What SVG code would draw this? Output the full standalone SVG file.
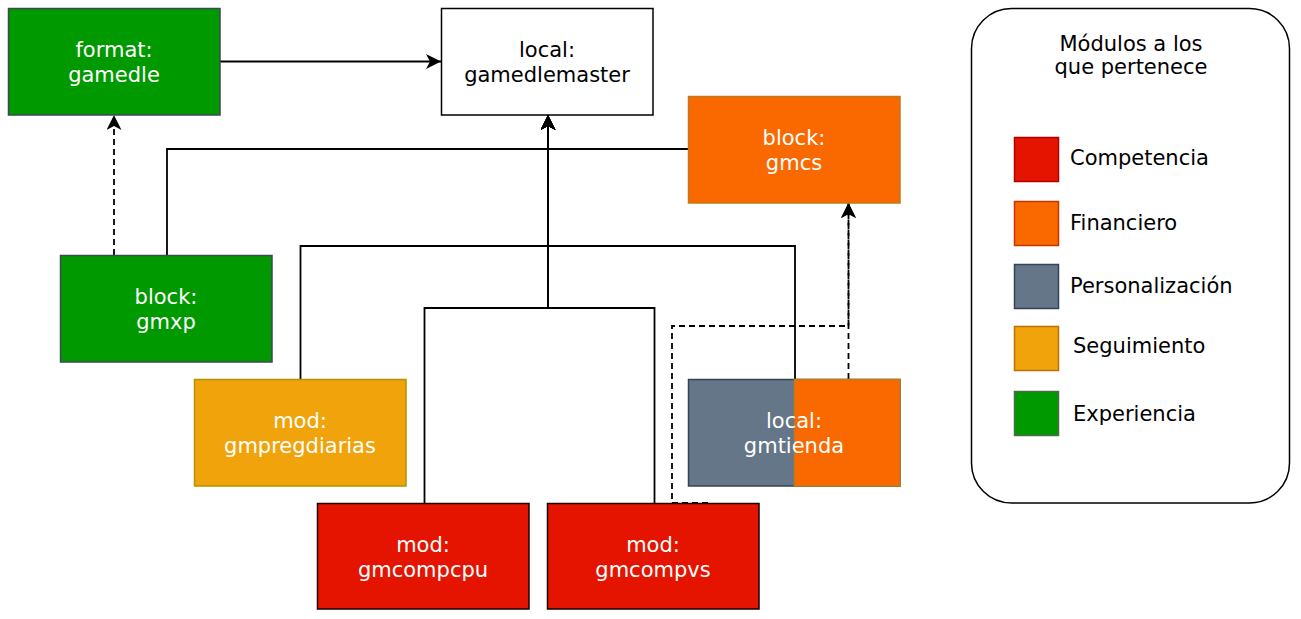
<svg xmlns="http://www.w3.org/2000/svg" width="1301" height="619" viewBox="0 0 1301 619">
<style>
text{font-family:"DejaVu Sans","Liberation Sans",sans-serif;font-size:21px}
.w{fill:#ffffff;text-anchor:middle}
.k{fill:#000000}
.c{text-anchor:middle}
.e{fill:none;stroke:#000;stroke-width:1.8}
.d{stroke-dasharray:6 4}
.bd{stroke-width:1.5}
</style>
<defs>
<marker id="a" viewBox="0 0 15 15" refX="15" refY="7.5" markerWidth="15" markerHeight="15" markerUnits="userSpaceOnUse" orient="auto">
<path d="M0,0 L15,7.5 L0,15 L4,7.5 Z" fill="#000"/>
</marker>
</defs>
<rect width="1301" height="619" fill="#fff"/>
<g id="connectors">
<path class="e" d="M220,61.5 H441" marker-end="url(#a)"/>
<path class="e d" d="M114,255 V115" marker-end="url(#a)"/>
<path class="e" d="M167,255 V149 H548 V115" marker-end="url(#a)"/>
<path class="e" d="M688,149 H548 V115" marker-end="url(#a)"/>
<path class="e" d="M300.5,379 V246 H548 V115" marker-end="url(#a)"/>
<path class="e" d="M795,379 V246 H548 V115" marker-end="url(#a)"/>
<path class="e" d="M424.5,503 V308 H548 V115" marker-end="url(#a)"/>
<path class="e" d="M654.5,503 V308 H548 V115" marker-end="url(#a)"/>
<path class="e d" d="M708,503 H672 V326 H848.5 V203" marker-end="url(#a)"/>
<path class="e d" d="M848.5,379 V203" marker-end="url(#a)"/>
</g>
<g id="gamedle">
<rect class="bd" x="8.5" y="8.5" width="211.5" height="106.5" fill="#009900" stroke="#3c4a56"/>
<text class="w" x="114" y="57">format:</text>
<text class="w" x="114" y="82">gamedle</text>
</g>
<g id="gamedlemaster">
<rect class="bd" x="441.5" y="8.5" width="211.5" height="106.5" fill="#fff" stroke="#000"/>
<text class="k c" x="547" y="57">local:</text>
<text class="k c" x="547" y="82">gamedlemaster</text>
</g>
<g id="gmcs">
<rect class="bd" x="688.5" y="96.5" width="211.5" height="106.5" fill="#fa6800" stroke="#c07a1a"/>
<text class="w" x="794" y="145">block:</text>
<text class="w" x="794" y="170">gmcs</text>
</g>
<g id="gmxp">
<rect class="bd" x="60.5" y="255.5" width="211.5" height="106.5" fill="#009900" stroke="#3c4a56"/>
<text class="w" x="166" y="304">block:</text>
<text class="w" x="166" y="329">gmxp</text>
</g>
<g id="gmpregdiarias">
<rect class="bd" x="194.5" y="379.5" width="211.5" height="106.5" fill="#f0a30a" stroke="#b39400"/>
<text class="w" x="300" y="428">mod:</text>
<text class="w" x="300" y="453">gmpregdiarias</text>
</g>
<g id="gmtienda">
<rect class="bd" x="688.5" y="379.5" width="211.5" height="106.5" fill="#647687" stroke="#314354"/>
<rect class="bd" x="794.5" y="379.5" width="105.5" height="106.5" fill="#fa6800" stroke="#c07a1a"/>
<text class="w" x="794" y="428">local:</text>
<text class="w" x="794" y="453">gmtienda</text>
</g>
<g id="gmcompcpu">
<rect class="bd" x="317.5" y="503.5" width="211.5" height="105.5" fill="#e51400" stroke="#1a0000"/>
<text class="w" x="423" y="551.5">mod:</text>
<text class="w" x="423" y="576.5">gmcompcpu</text>
</g>
<g id="gmcompvs">
<rect class="bd" x="547.5" y="503.5" width="211.5" height="105.5" fill="#e51400" stroke="#1a0000"/>
<text class="w" x="653" y="551.5">mod:</text>
<text class="w" x="653" y="576.5">gmcompvs</text>
</g>
<g id="legend">
<rect class="bd" x="971.5" y="8.5" width="318" height="494.5" rx="40" ry="40" fill="#fff" stroke="#000"/>
<text class="k c" x="1131" y="51">Módulos a los</text>
<text class="k c" x="1131" y="74">que pertenece</text>
<rect class="bd" x="1014.5" y="137.5" width="44" height="44" fill="#e51400" stroke="#b20000"/>
<text class="k" x="1070" y="165">Competencia</text>
<rect class="bd" x="1014.5" y="201.5" width="44" height="44" fill="#fa6800" stroke="#c73500"/>
<text class="k" x="1070" y="230">Financiero</text>
<rect class="bd" x="1014.5" y="264.5" width="44" height="44" fill="#647687" stroke="#314354"/>
<text class="k" x="1070" y="293">Personalización</text>
<rect class="bd" x="1014.5" y="326.5" width="44" height="44" fill="#f0a30a" stroke="#bd7000"/>
<text class="k" x="1073" y="353">Seguimiento</text>
<rect class="bd" x="1014.5" y="391.5" width="44" height="44" fill="#009900" stroke="#4b6b4b"/>
<text class="k" x="1073" y="421">Experiencia</text>
</g>
</svg>
